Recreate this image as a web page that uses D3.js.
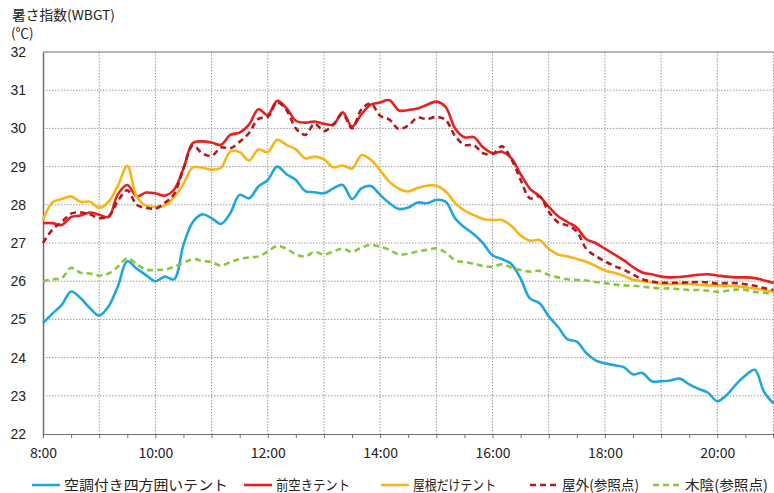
<!DOCTYPE html>
<html>
<head>
<meta charset="utf-8">
<script src="https://cdn.jsdelivr.net/npm/d3@7"></script>
<style>
html,body{margin:0;padding:0;background:#fff;}
svg{display:block;font-family:"Noto Sans CJK JP","Noto Sans",sans-serif;}
</style>
</head>
<body>
<svg id="chart" width="774" height="493"></svg>
<script>
const times = ["8:00","8:10","8:20","8:30","8:40","8:50","9:00","9:10","9:20","9:30","9:40","9:50",
"10:00","10:10","10:20","10:30","10:40","10:50","11:00","11:10","11:20","11:30","11:40","11:50",
"12:00","12:10","12:20","12:30","12:40","12:50","13:00","13:10","13:20","13:30","13:40","13:50",
"14:00","14:10","14:20","14:30","14:40","14:50","15:00","15:10","15:20","15:30","15:40","15:50",
"16:00","16:10","16:20","16:30","16:40","16:50","17:00","17:10","17:20","17:30","17:40","17:50",
"18:00","18:10","18:20","18:30","18:40","18:50","19:00","19:10","19:20","19:30","19:40","19:50",
"20:00","20:10","20:20","20:30","20:40","20:50","21:00"];

const tentAC = [24.9,25.15,25.38,25.73,25.56,25.3,25.1,25.34,25.87,26.52,26.33,26.16,
26.0,26.12,26.05,26.95,27.55,27.75,27.65,27.5,27.78,28.26,28.17,28.48,
28.65,29.0,28.8,28.65,28.36,28.33,28.3,28.43,28.52,28.15,28.43,28.49,
28.26,28.04,27.89,27.93,28.06,28.04,28.13,28.08,27.65,27.41,27.23,26.99,
26.68,26.58,26.45,26.07,25.55,25.43,25.08,24.8,24.48,24.42,24.12,23.93,
23.85,23.8,23.75,23.56,23.6,23.38,23.38,23.4,23.45,23.3,23.18,23.08,
22.86,23.02,23.3,23.53,23.68,23.1,22.8];

const tentFrontOpen = [27.52,27.52,27.47,27.68,27.72,27.8,27.74,27.68,28.28,28.52,28.22,28.32,
28.3,28.24,28.4,28.95,29.62,29.66,29.63,29.57,29.83,29.89,30.1,30.5,
30.35,30.72,30.53,30.2,30.15,30.18,30.12,30.1,30.42,30.05,30.37,30.62,
30.68,30.74,30.47,30.48,30.52,30.62,30.7,30.56,30.0,29.77,29.77,29.5,
29.35,29.39,29.22,28.8,28.42,28.23,27.95,27.7,27.55,27.4,27.1,27.0,
26.85,26.7,26.55,26.37,26.23,26.18,26.12,26.1,26.11,26.14,26.17,26.18,
26.15,26.12,26.1,26.1,26.08,26.02,25.96];

const tentRoofOnly = [27.6,28.06,28.15,28.22,28.08,28.08,27.92,28.08,28.5,29.02,28.22,27.98,
27.95,27.98,28.2,28.55,28.98,28.97,28.92,28.97,29.39,29.38,29.16,29.45,
29.38,29.7,29.57,29.45,29.22,29.26,29.19,28.98,29.03,28.95,29.3,29.18,
28.9,28.6,28.42,28.35,28.44,28.5,28.5,28.35,28.05,27.85,27.73,27.63,
27.6,27.6,27.45,27.2,27.06,27.08,26.85,26.7,26.65,26.58,26.51,26.4,
26.28,26.22,26.14,26.04,26.0,25.97,25.93,25.93,25.94,25.93,25.9,25.89,
25.89,25.88,25.87,25.84,25.81,25.77,25.72];

const outdoorRef = [27.0,27.35,27.55,27.77,27.8,27.75,27.65,27.7,28.1,28.38,28.0,27.92,
27.9,28.05,28.28,28.95,29.55,29.35,29.28,29.5,29.48,29.65,29.88,30.25,
30.3,30.68,30.48,30.0,29.83,30.12,29.93,30.1,30.38,30.0,30.5,30.65,
30.33,30.23,29.98,30.08,30.28,30.24,30.3,30.22,29.8,29.57,29.56,29.35,
29.33,29.53,29.2,28.65,28.17,28.22,27.82,27.54,27.46,27.3,26.85,26.66,
26.52,26.4,26.3,26.18,26.05,25.99,25.96,25.96,25.96,25.97,25.98,25.97,
25.94,25.95,25.95,25.92,25.88,25.82,25.77];

const shadeRef = [26.0,26.05,26.08,26.35,26.22,26.2,26.15,26.2,26.38,26.6,26.45,26.3,
26.3,26.3,26.38,26.48,26.58,26.53,26.5,26.41,26.5,26.58,26.62,26.65,
26.78,26.92,26.85,26.7,26.65,26.77,26.7,26.78,26.85,26.77,26.88,26.95,
26.9,26.82,26.7,26.72,26.78,26.82,26.86,26.75,26.55,26.5,26.46,26.4,
26.38,26.44,26.36,26.29,26.25,26.27,26.16,26.1,26.05,26.03,26.02,25.98,
25.95,25.91,25.89,25.88,25.86,25.83,25.81,25.81,25.79,25.77,25.77,25.75,
25.72,25.75,25.78,25.77,25.72,25.7,25.66];

const xTickLabels = ["8:00","10:00","12:00","14:00","16:00","18:00","20:00"];
const yTicks = [22,23,24,25,26,27,28,29,30,31,32];

const seriesNames = ["空調付き四方囲いテント","前空きテント","屋根だけテント","屋外(参照点)","木陰(参照点)"];
const seriesData = [tentAC, tentFrontOpen, tentRoofOnly, outdoorRef, shadeRef];
const seriesColors = ["#1fa6e0","#e8201f","#f7b519","#b01b22","#8cc63f"];
const seriesDash = [null,null,null,"6,4","6,4"];

const parseT = s => { const [h,m] = s.split(":").map(Number); return h + m/60; };

const svg = d3.select("#chart");
const L = 43, R = 773.5, T = 52, B = 434;
const x = d3.scaleLinear().domain([8,21]).range([L,R]);
const y = d3.scaleLinear().domain([22,32]).range([B,T]);

// gridlines
const grid = svg.append("g");
yTicks.filter(v => v>22 && v<32).forEach(v => {
  grid.append("line").attr("x1",L).attr("x2",R).attr("y1",y(v)).attr("y2",y(v))
    .attr("stroke","#9a9a9a").attr("stroke-width",1).attr("stroke-dasharray","1.5,1.5");
});
d3.range(9,22).forEach(h => {
  grid.append("line").attr("x1",x(h)).attr("x2",x(h)).attr("y1",T).attr("y2",B)
    .attr("stroke","#9a9a9a").attr("stroke-width",1).attr("stroke-dasharray","1.5,1.5");
});
svg.append("line").attr("x1",L).attr("x2",R).attr("y1",T).attr("y2",T)
  .attr("stroke","#707070").attr("stroke-width",1.2);

// axes
const xAxis = d3.axisBottom(x).tickValues(d3.range(8,21.01,0.5)).tickSize(4)
  .tickFormat(d => { const s = (Math.floor(d))+":00"; return (d%2===0 && xTickLabels.includes(s)) ? s : ""; });
const gx = svg.append("g").attr("transform",`translate(0,${B})`).call(xAxis);
gx.select(".domain").attr("stroke","#707070").attr("stroke-width",1.2);
gx.selectAll(".tick line").attr("stroke","#707070");
gx.selectAll(".tick text").attr("fill","#222").attr("dy","1.2em")
  .attr("font-family","'Liberation Sans Narrow','Noto Sans CJK JP',sans-serif").attr("font-size","14px");

const yAxis = d3.axisLeft(y).tickValues(yTicks).tickSize(0).tickPadding(17);
const gy = svg.append("g").attr("transform",`translate(${L},0)`).call(yAxis);
gy.select(".domain").attr("stroke","#707070").attr("stroke-width",1.5);
gy.selectAll(".tick text").attr("font-size","14px").attr("fill","#222");

// lines
const line = d3.line().x((d,i) => x(parseT(times[i]))).y(d => y(d)).curve(d3.curveCatmullRom.alpha(0.5));
seriesData.forEach((arr,i) => {
  svg.append("path").datum(arr).attr("d",line).attr("fill","none")
    .attr("stroke",seriesColors[i]).attr("stroke-width",2.6)
    .attr("stroke-dasharray",seriesDash[i]).attr("stroke-linejoin","round");
});

// title
svg.append("text").attr("x",12).attr("y",20).attr("font-size","13.5px").attr("fill","#222")
  .attr("textLength",103).attr("lengthAdjust","spacingAndGlyphs").text("暑さ指数(WBGT)");
svg.append("text").attr("x",11).attr("y",38).attr("font-size","13.5px").attr("fill","#222").text("(℃)");

// legend
const legX = [32,244,381,530,653];
const legW = [164,74,83,77,83];
const lg = svg.append("g");
seriesNames.forEach((n,i) => {
  lg.append("line").attr("x1",legX[i]).attr("x2",legX[i]+28).attr("y1",485).attr("y2",485)
    .attr("stroke",seriesColors[i]).attr("stroke-width",2.6).attr("stroke-dasharray",seriesDash[i]);
  lg.append("text").attr("x",legX[i]+32).attr("y",490).attr("font-size","14px").attr("fill","#222")
    .attr("textLength",legW[i]).attr("lengthAdjust","spacingAndGlyphs").text(n);
});
</script>
</body>
</html>
